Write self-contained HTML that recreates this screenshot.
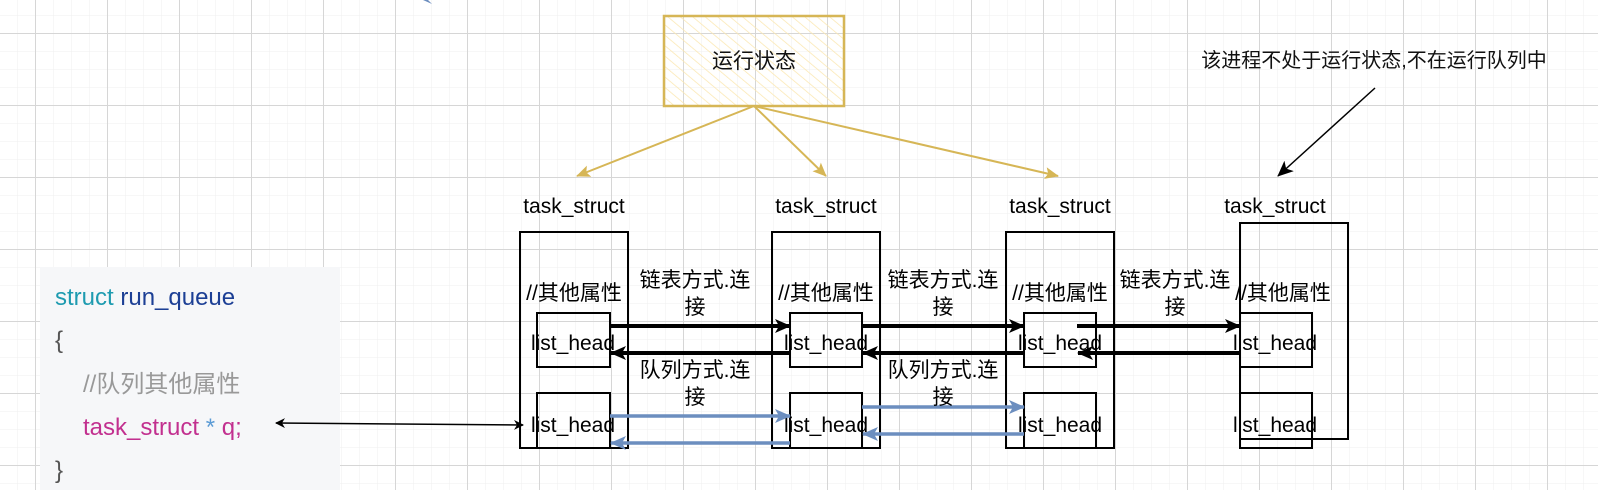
<!DOCTYPE html>
<html><head><meta charset="utf-8"><style>
html,body{margin:0;padding:0;background:#fff;}
svg{display:block}
text{font-family:"Liberation Sans","Noto Sans CJK SC",sans-serif;}
</style></head><body>
<svg width="1598" height="490" viewBox="0 0 1598 490" xmlns="http://www.w3.org/2000/svg">
<defs>
<pattern id="minor" width="18" height="18" patternUnits="userSpaceOnUse" x="35" y="33">
<path d="M0 0H18M0 0V18" stroke="#efefef" stroke-width="1" fill="none"/>
</pattern>
<pattern id="major" width="72" height="72" patternUnits="userSpaceOnUse" x="35" y="33">
<path d="M0 0.5H72M0.5 0V72" stroke="#d6d6d6" stroke-width="1" fill="none"/>
</pattern>
<pattern id="hatch" width="8" height="8" patternUnits="userSpaceOnUse" patternTransform="rotate(-50)">
<line x1="0" y1="0" x2="0" y2="8" stroke="#fbe7b0" stroke-width="1.5"/>
</pattern>
<marker id="ab" markerWidth="10" markerHeight="10" refX="9" refY="5" orient="auto-start-reverse" markerUnits="userSpaceOnUse">
<path d="M0 0L10 5L0 10L3 5Z" fill="#000"/></marker>
<marker id="abig" markerWidth="16" markerHeight="14" refX="15" refY="7" orient="auto" markerUnits="userSpaceOnUse">
<path d="M0 0L16 7L0 14L4 7Z" fill="#000"/></marker>
<marker id="ablue" markerWidth="16" markerHeight="14" refX="15" refY="7" orient="auto" markerUnits="userSpaceOnUse">
<path d="M0 0L16 7L0 14L4 7Z" fill="#6c8ebf"/></marker>
<marker id="ay" markerWidth="14" markerHeight="12" refX="13" refY="6" orient="auto" markerUnits="userSpaceOnUse">
<path d="M0 0L14 6L0 12L3 6Z" fill="#d6b656"/></marker>
</defs>
<rect width="1598" height="490" fill="url(#minor)"/>
<rect width="1598" height="490" fill="url(#major)"/>

<path d="M423 0 L432 4 L428 0Z" fill="#6c8ebf"/>

<!-- code box -->
<rect x="40" y="267" width="300" height="223" fill="#f6f7f9"/>
<text x="55" y="305" font-size="24"><tspan fill="#1e9bb0">struct</tspan><tspan fill="#1c3f95"> run_queue</tspan></text>
<text x="55" y="348" font-size="24" fill="#555">{</text>
<text x="83" y="392" font-size="24" fill="#999">//队列其他属性</text>
<text x="83" y="435" font-size="24"><tspan fill="#c2308f">task_struct</tspan><tspan fill="#5b9bd5"> *</tspan><tspan fill="#c2308f"> q;</tspan></text>
<text x="55" y="478" font-size="24" fill="#555">}</text>

<!-- yellow box -->
<rect x="664" y="16" width="180" height="90" fill="url(#hatch)" stroke="#d6b656" stroke-width="2.5"/>
<text x="754" y="68" font-size="21" text-anchor="middle" fill="#111">运行状态</text>
<g stroke="#d6b656" stroke-width="2" fill="none">
<line x1="754" y1="106" x2="577" y2="176" marker-end="url(#ay)"/>
<line x1="754" y1="106" x2="826" y2="176" marker-end="url(#ay)"/>
<line x1="754" y1="106" x2="1058" y2="176" marker-end="url(#ay)"/>
</g>

<text x="1374" y="67" font-size="20" text-anchor="middle" fill="#111">该进程不处于运行状态,不在运行队列中</text>
<line x1="1375" y1="88" x2="1278" y2="176" stroke="#000" stroke-width="1.5" marker-end="url(#abig)"/>

<g font-size="21" fill="#000" text-anchor="middle">
<text x="574" y="213">task_struct</text>
<text x="826" y="213">task_struct</text>
<text x="1060" y="213">task_struct</text>
<text x="1275" y="213">task_struct</text>
</g>
<g fill="none" stroke="#000" stroke-width="2">
<rect x="520" y="232" width="108" height="216"/>
<rect x="537" y="313" width="73" height="54"/>
<rect x="537" y="393" width="73" height="55"/>
<rect x="772" y="232" width="108" height="216"/>
<rect x="790" y="313" width="72" height="54"/>
<rect x="790" y="393" width="72" height="55"/>
<rect x="1006" y="232" width="108" height="216"/>
<rect x="1024" y="313" width="72" height="54"/>
<rect x="1024" y="393" width="72" height="55"/>
<rect x="1240" y="223" width="108" height="216"/>
<rect x="1240" y="313" width="72" height="54"/>
<rect x="1240" y="393" width="72" height="55"/>
</g>
<g font-size="21" fill="#000" text-anchor="middle">
<text x="574" y="300">//其他属性</text>
<text x="826" y="300">//其他属性</text>
<text x="1060" y="300">//其他属性</text>
<text x="1283" y="300">//其他属性</text>
<text x="573" y="350">list_head</text>
<text x="826" y="350">list_head</text>
<text x="1060" y="350">list_head</text>
<text x="1275" y="350">list_head</text>
<text x="573" y="432">list_head</text>
<text x="826" y="432">list_head</text>
<text x="1060" y="432">list_head</text>
<text x="1275" y="432">list_head</text>
</g>

<g stroke="#000" stroke-width="4" fill="none">
<line x1="610" y1="326" x2="790" y2="326" marker-end="url(#abig)"/>
<line x1="790" y1="353" x2="611" y2="353" marker-end="url(#abig)"/>
<line x1="862" y1="326" x2="1024" y2="326" marker-end="url(#abig)"/>
<line x1="1024" y1="353" x2="863" y2="353" marker-end="url(#abig)"/>
<line x1="1077" y1="326" x2="1240" y2="326" marker-end="url(#abig)"/>
<line x1="1240" y1="353" x2="1078" y2="353" marker-end="url(#abig)"/>
</g>
<g stroke="#6c8ebf" stroke-width="3.5" fill="none">
<line x1="610" y1="416" x2="790" y2="416" marker-end="url(#ablue)"/>
<line x1="790" y1="443" x2="611" y2="443" marker-end="url(#ablue)"/>
<line x1="862" y1="407" x2="1024" y2="407" marker-end="url(#ablue)"/>
<line x1="1024" y1="434" x2="863" y2="434" marker-end="url(#ablue)"/>
</g>
<line x1="276" y1="423" x2="523" y2="425" stroke="#000" stroke-width="1.5" marker-start="url(#ab)" marker-end="url(#ab)"/>

<g font-size="21" fill="#000" text-anchor="middle">
<text x="695" y="287">链表方式.连</text><text x="695" y="314">接</text>
<text x="695" y="377">队列方式.连</text><text x="695" y="404">接</text>
<text x="943" y="287">链表方式.连</text><text x="943" y="314">接</text>
<text x="943" y="377">队列方式.连</text><text x="943" y="404">接</text>
<text x="1175" y="287">链表方式.连</text><text x="1175" y="314">接</text>
</g>
</svg>
</body></html>
